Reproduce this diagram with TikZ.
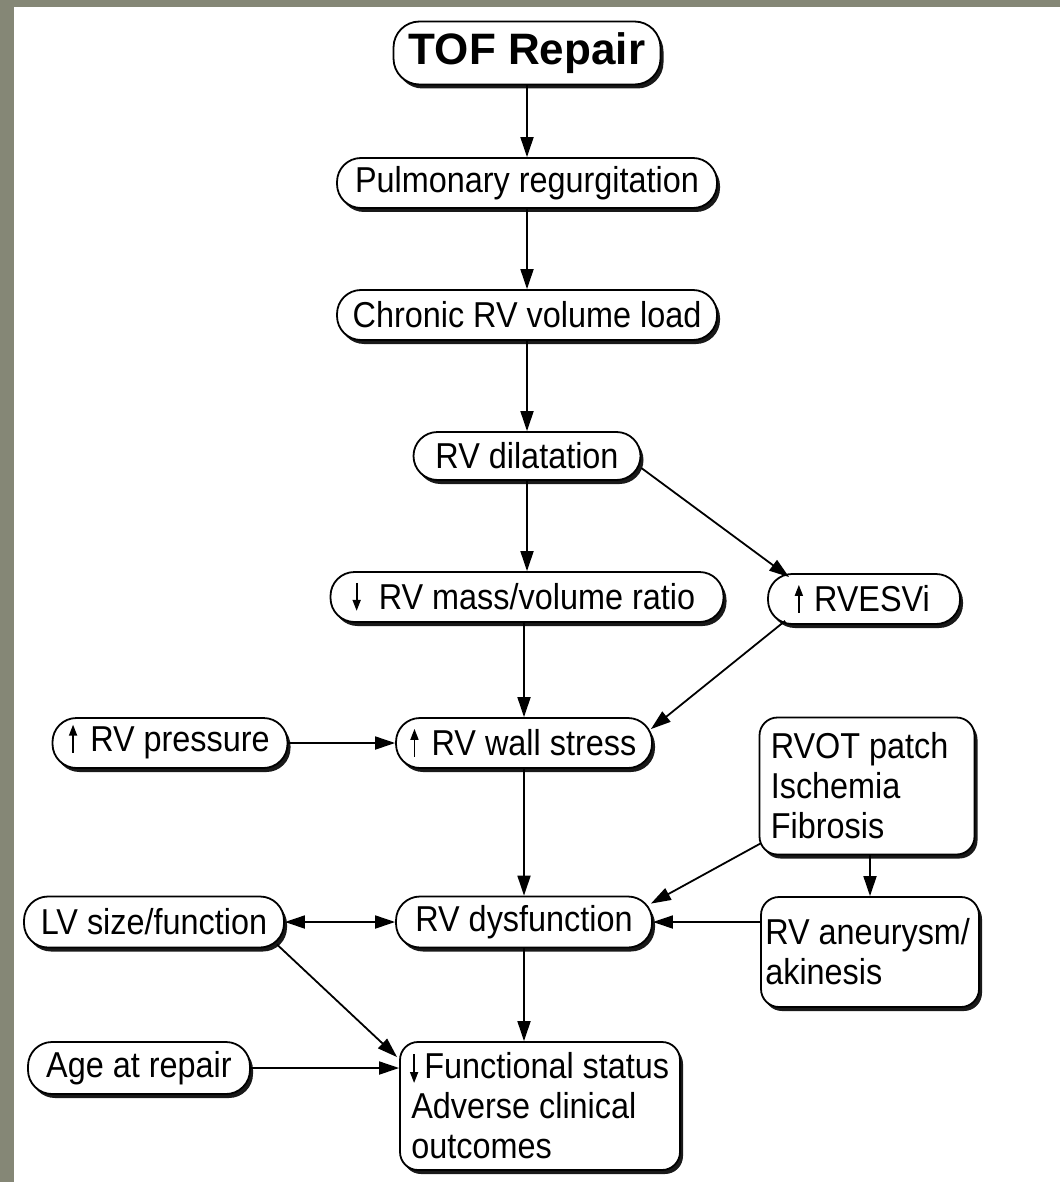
\documentclass[tikz,border=0pt]{standalone}
\usepackage{fontspec}
\setmainfont[FakeStretch=0.9]{Liberation Sans}
\newfontfamily\titlefont{Liberation Sans}
\usetikzlibrary{arrows.meta,shadows,calc}
\definecolor{framegray}{RGB}{133,135,118}
\begin{document}
\begin{tikzpicture}[x=1pt,y=-1pt,
  box/.style={draw, line width=1.8pt, fill=white, inner sep=0pt,
    font=\fontsize{36}{40}\selectfont,
    drop shadow={shadow xshift=3pt, shadow yshift=-4pt, fill=black, opacity=0.9}},
  pill/.style={box, rounded corners=24pt, minimum height=50pt},
  tall/.style={box, rounded corners=18pt},
  txt/.style={inner sep=0pt, align=left, font=\fontsize{36}{40}\selectfont},
  glyph/.style={line width=1.7pt, -{Triangle[length=11pt,width=8pt]}},
  arr/.style={line width=1.8pt, -{Triangle[length=20pt,width=13pt]}},
  darr/.style={line width=1.8pt, {Triangle[length=20pt,width=13pt]}-{Triangle[length=20pt,width=13pt]}}]
\useasboundingbox (0,0) rectangle (1060,1182);
\fill[white] (0,0) rectangle (1060,1182);
\fill[framegray] (0,0) rectangle (1060,7);
\fill[framegray] (0,0) rectangle (14,1182);

\node[box, rounded corners=26pt, minimum width=267pt, minimum height=63pt,
  font=\titlefont\bfseries\fontsize{44}{48}\selectfont] (tof) at (527,53) {TOF Repair};
\node[pill, minimum width=380pt] (pr) at (527,183) {Pulmonary regurgitation};
\node[pill, minimum width=380pt] (cv) at (527,315) {Chronic RV volume load};
\node[pill, minimum width=227pt, minimum height=48pt] (dil) at (527,456) {RV dilatation};

\node[pill, minimum width=393pt] (mv) at (527,597) {};
\node[txt] (mvt) at ($(mv.center)+(10,0)$) {RV mass/volume ratio};
\draw[glyph] ($(mvt.base west)+(-22,-27)$) -- ($(mvt.base west)+(-22,1)$);

\node[pill, minimum width=192pt] (esv) at (864,599) {};
\node[txt] (esvt) at ($(esv.center)+(8,0)$) {RVESVi};
\draw[glyph] ($(esvt.base west)+(-15,1)$) -- ($(esvt.base west)+(-15,-27)$);

\node[pill, minimum width=235pt] (press) at (170,743) {};
\node[txt] (presst) at ($(press.center)+(10,0)$) {RV pressure};
\draw[glyph] ($(presst.base west)+(-17,1)$) -- ($(presst.base west)+(-17,-27)$);

\node[pill, minimum width=256pt] (wall) at (524,743) {};
\node[txt] (wallt) at ($(wall.center)+(10,0)$) {RV wall stress};
\draw[glyph] ($(wallt.base west)+(-17,1)$) -- ($(wallt.base west)+(-17,-27)$);

\node[tall, minimum width=215pt, minimum height=137pt] (rvot) at (867,786) {};
\node[txt, anchor=west] (rvott) at ($(rvot.west)+(12,0)$) {RVOT patch\\Ischemia\\Fibrosis};

\node[pill, minimum width=260pt, minimum height=51pt] (lv) at (154,922) {LV size/function};
\node[pill, minimum width=256pt, minimum height=51pt] (dys) at (524,922) {RV dysfunction};

\node[tall, minimum width=218pt, minimum height=110pt] (aneu) at (870,952) {};
\node[txt, anchor=west] (aneut) at ($(aneu.west)+(5,0)$) {RV aneurysm/\\akinesis};

\node[pill, minimum width=222pt, minimum height=52pt] (age) at (139,1068) {Age at repair};

\node[tall, minimum width=280pt, minimum height=128pt] (func) at (540,1106) {};
\node[txt, anchor=west] (funct) at ($(func.west)+(12,0)$) {\hspace*{13pt}Functional status\\Adverse clinical\\outcomes};
\draw[glyph] ($(funct.west)+(3,-52)$) -- ($(funct.west)+(3,-23)$);

\draw[arr] (tof) -- (pr);
\draw[arr] (pr) -- (cv);
\draw[arr] (cv) -- (dil);
\draw[arr] (dil) -- (mv);
\draw[arr] (dil.-6) -- ($(esv.north west)+(22,4)$);
\draw[arr] (mv.south -| wall.north) -- (wall.north);
\draw[arr] ($(esv.south west)+(18,-4)$) -- ($(wall.north east)+(-2,12)$);
\draw[arr] (press.east) -- (wall.west);
\draw[arr] (wall) -- (dys);
\draw[arr] ($(rvot.south west)+(2,-12)$) -- ($(dys.north east)+(-2,8)$);
\draw[arr] (rvot.south -| aneu.north) -- (aneu.north);
\draw[arr] (aneu.west |- dys.east) -- (dys.east);
\draw[darr] (lv.east) -- (dys.west);
\draw[arr] ($(lv.south east)+(-8,-4)$) -- ($(func.north west)+(-2,16)$);
\draw[arr] (dys.south) -- (dys.south |- func.north);
\draw[arr] (age.east) -- (age.east -| func.west);
\end{tikzpicture}
\end{document}
